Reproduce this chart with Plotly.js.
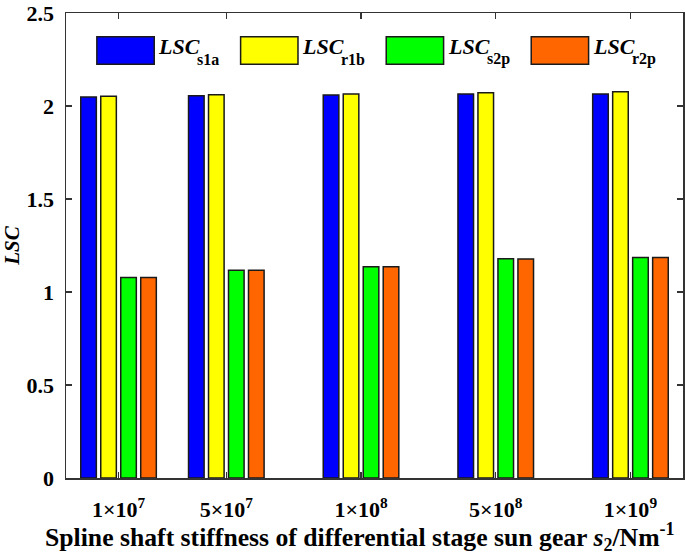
<!DOCTYPE html>
<html>
<head>
<meta charset="utf-8">
<script src="https://cdn.plot.ly/plotly-3.0.1.min.js"></script>
<style>html,body{margin:0;padding:0;background:#fff;}#chart{width:685px;height:556px;}</style>
</head>
<body>
<div id="chart"></div>
<script>
// ---- data ----
const categories = ['1×10<sup>7</sup>', '5×10<sup>7</sup>', '1×10<sup>8</sup>', '5×10<sup>8</sup>', '1×10<sup>9</sup>'];
const seriesNames = ['s1a', 'r1b', 's2p', 'r2p'];
const LSC_s1a = [2.048, 2.055, 2.059, 2.064, 2.064];
const LSC_r1b = [2.053, 2.060, 2.064, 2.071, 2.076];
const LSC_s2p = [1.078, 1.117, 1.136, 1.179, 1.186];
const LSC_r2p = [1.078, 1.117, 1.136, 1.177, 1.186];
const yTicks = [0, 0.5, 1, 1.5, 2, 2.5];
const yTickText = ['0', '0.5', '1', '1.5', '2', '2.5'];

// ---- layout / style ----
const groupPos = [1, 1.8, 2.8, 3.8, 4.8];
const colors = ['#0000FF', '#FFFF00', '#00FF00', '#FF6600'];
const FONT = "'Liberation Serif', 'Times New Roman', serif";
const seriesValues = [LSC_s1a, LSC_r1b, LSC_s2p, LSC_r2p];

const traces = seriesValues.map((vals, i) => ({
  type: 'bar',
  x: groupPos,
  y: vals,
  name: 'LSC ' + seriesNames[i],
  marker: {color: colors[i], line: {color: '#1a1a1a', width: 1.5}},
  showlegend: false,
  hoverinfo: 'y'
}));

// custom legend (large swatches like the original)
const legX0 = [0.050, 0.283, 0.519, 0.754];
const swW = 0.093, swY0 = 0.890, swY1 = 0.949;
const PW = 617; // plot width in px, for converting small text offsets
const shapes = [], annotations = [];
seriesNames.forEach((n, i) => {
  shapes.push({type: 'rect', xref: 'paper', yref: 'paper', x0: legX0[i], x1: legX0[i] + swW, y0: swY0, y1: swY1,
    fillcolor: colors[i], line: {color: '#1a1a1a', width: 1.5}});
  annotations.push({xref: 'paper', yref: 'paper', x: legX0[i] + swW + 2 / PW, y: 0.928,
    xanchor: 'left', yanchor: 'middle', showarrow: false,
    text: '<i>LSC</i>',
    font: {family: FONT, size: 22, color: '#000', weight: 'bold'}});
  annotations.push({xref: 'paper', yref: 'paper', x: legX0[i] + swW + 41 / PW, y: 0.900,
    xanchor: 'left', yanchor: 'middle', showarrow: false,
    text: n,
    font: {family: FONT, size: 16, color: '#000', weight: 'bold'}});
});
// x-axis title (as annotation so it can sit slightly left of centre like the original)
annotations.push({xref: 'paper', yref: 'paper', x: 0.4757, y: -0.126, xanchor: 'center', yanchor: 'middle',
  showarrow: false,
  text: 'Spline shaft stiffness of differential stage sun gear <i>s</i><sub>2</sub>/Nm<sup>-1</sup>',
  font: {family: FONT, size: 25.7, color: '#000', weight: 'bold'}});

const layout = {
  width: 685, height: 556,
  margin: {l: 66, r: 2, t: 13, b: 78},
  paper_bgcolor: '#fff', plot_bgcolor: '#fff',
  font: {family: FONT, size: 18, color: '#000', weight: 'bold'},
  barmode: 'group', bargap: 0.258, bargroupgap: 0.22,
  xaxis: {
    range: [0.61, 5.19], tickvals: groupPos, ticktext: categories,
    ticks: 'inside', ticklen: 6, tickwidth: 1.2, tickcolor: '#333',
    showline: true, linecolor: '#333', linewidth: 1.5, mirror: 'ticks',
    showgrid: false, zeroline: false,
    tickfont: {family: FONT, size: 22, color: '#000', weight: 'bold'},
    ticklabelstandoff: 11
  },
  yaxis: {
    range: [0, 2.5], tickvals: yTicks, ticktext: yTickText,
    ticks: 'inside', ticklen: 6, tickwidth: 1.2, tickcolor: '#333',
    showline: true, linecolor: '#333', linewidth: 1.5, mirror: 'ticks',
    showgrid: false, zeroline: false, ticklabeloverflow: 'allow',
    tickfont: {family: FONT, size: 22, color: '#000', weight: 'bold'},
    ticklabelstandoff: 6,
    title: {text: '<i>LSC</i>', font: {family: FONT, size: 21, color: '#000', weight: 'bold'}, standoff: 5}
  },
  shapes: shapes,
  annotations: annotations
};

Plotly.newPlot('chart', traces, layout, {displayModeBar: false, staticPlot: true});
</script>
</body>
</html>
